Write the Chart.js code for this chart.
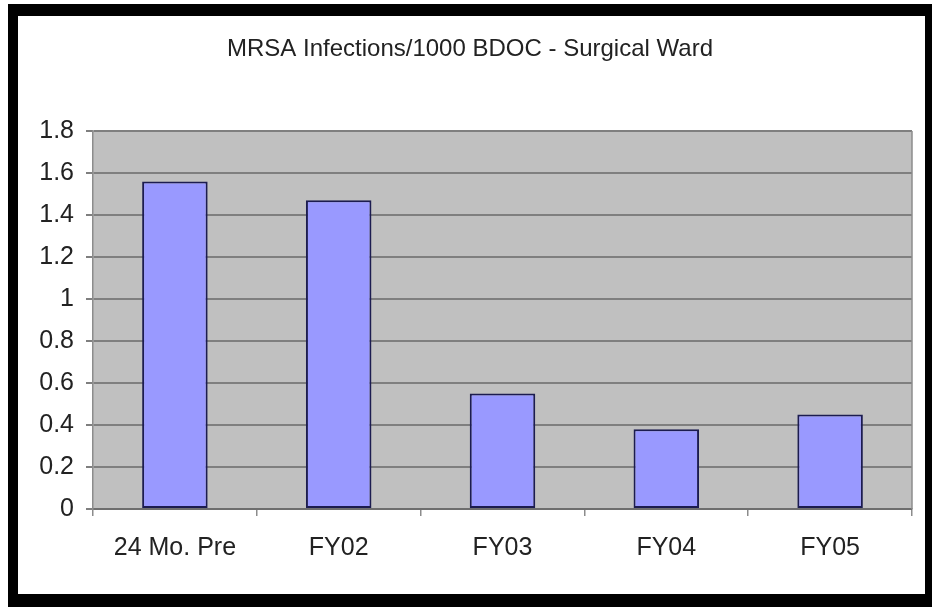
<!DOCTYPE html>
<html>
<head>
<meta charset="utf-8">
<script src="https://cdn.jsdelivr.net/npm/chart.js@4"></script>
<style>
html,body{margin:0;padding:0;background:#fff;}
#wrap{position:relative;width:932px;height:607px;}
#frame{position:absolute;left:8px;top:4px;width:907px;height:578px;border-style:solid;border-color:#000;border-width:12px 7px 13px 10px;pointer-events:none;}
canvas{position:absolute;left:0;top:0;}
</style>
</head>
<body>
<div id="wrap">
<canvas id="c" width="932" height="607"></canvas>
<div id="frame"></div>
</div>
<script>
const titleText = "MRSA Infections/1000 BDOC - Surgical Ward";
const categories = ["24 Mo. Pre", "FY02", "FY03", "FY04", "FY05"];
const infections = [1.56, 1.47, 0.55, 0.38, 0.45];
const yTicks = [0, 0.2, 0.4, 0.6, 0.8, 1, 1.2, 1.4, 1.6, 1.8];

const font = "'Liberation Sans', Arial, sans-serif";

const plotBg = {
  id: 'plotBg',
  beforeDraw(chart) {
    const {ctx, chartArea: a} = chart;
    ctx.save();
    ctx.fillStyle = '#c0c0c0';
    ctx.fillRect(a.left, a.top, a.right - a.left, a.bottom - a.top);
    ctx.restore();
  },
  afterDraw(chart) {
    const {ctx, chartArea: a} = chart;
    ctx.save();
    ctx.strokeStyle = '#8c8c8c';
    ctx.lineWidth = 1.5;
    ctx.beginPath();
    ctx.moveTo(a.right, a.top);
    ctx.lineTo(a.right, a.bottom);
    ctx.stroke();
    ctx.fillStyle = '#222';
    ctx.font = "24px " + font;
    ctx.textAlign = 'center';
    ctx.textBaseline = 'middle';
    ctx.fillText(titleText, 470, 49);
    ctx.restore();
  }
};

new Chart(document.getElementById('c'), {
  type: 'bar',
  data: {
    labels: categories,
    datasets: [{
      data: infections,
      backgroundColor: '#9999ff',
      borderColor: '#1c1c50',
      borderWidth: 2,
      borderSkipped: false,
      barPercentage: 0.4,
      categoryPercentage: 1.0
    }]
  },
  options: {
    responsive: false,
    animation: false,
    layout: { padding: { top: 131, right: 20, bottom: 0, left: 0 } },
    plugins: { legend: { display: false }, title: { display: false }, tooltip: { enabled: false } },
    scales: {
      x: {
        afterFit(s) { s.height = 98; },
        grid: { drawOnChartArea: false, color: '#8c8c8c', lineWidth: 1.5, tickLength: 7, offset: true },
        border: { color: '#6e6e6e', width: 2 },
        ticks: { color: '#222', font: { family: font, size: 25 }, padding: 17, maxRotation: 0 }
      },
      y: {
        min: 0, max: 1.8,
        afterFit(s) { s.width = 93; },
        afterBuildTicks(s) { s.ticks = yTicks.map(v => ({ value: v })); },
        grid: { color: '#7f7f7f', lineWidth: 2, tickLength: 7 },
        border: { color: '#8c8c8c', width: 1.5 },
        ticks: { color: '#222', font: { family: font, size: 25 }, padding: 12,
                 callback: v => String(Math.round(v * 10) / 10) }
      }
    }
  },
  plugins: [plotBg]
});
</script>
</body>
</html>
